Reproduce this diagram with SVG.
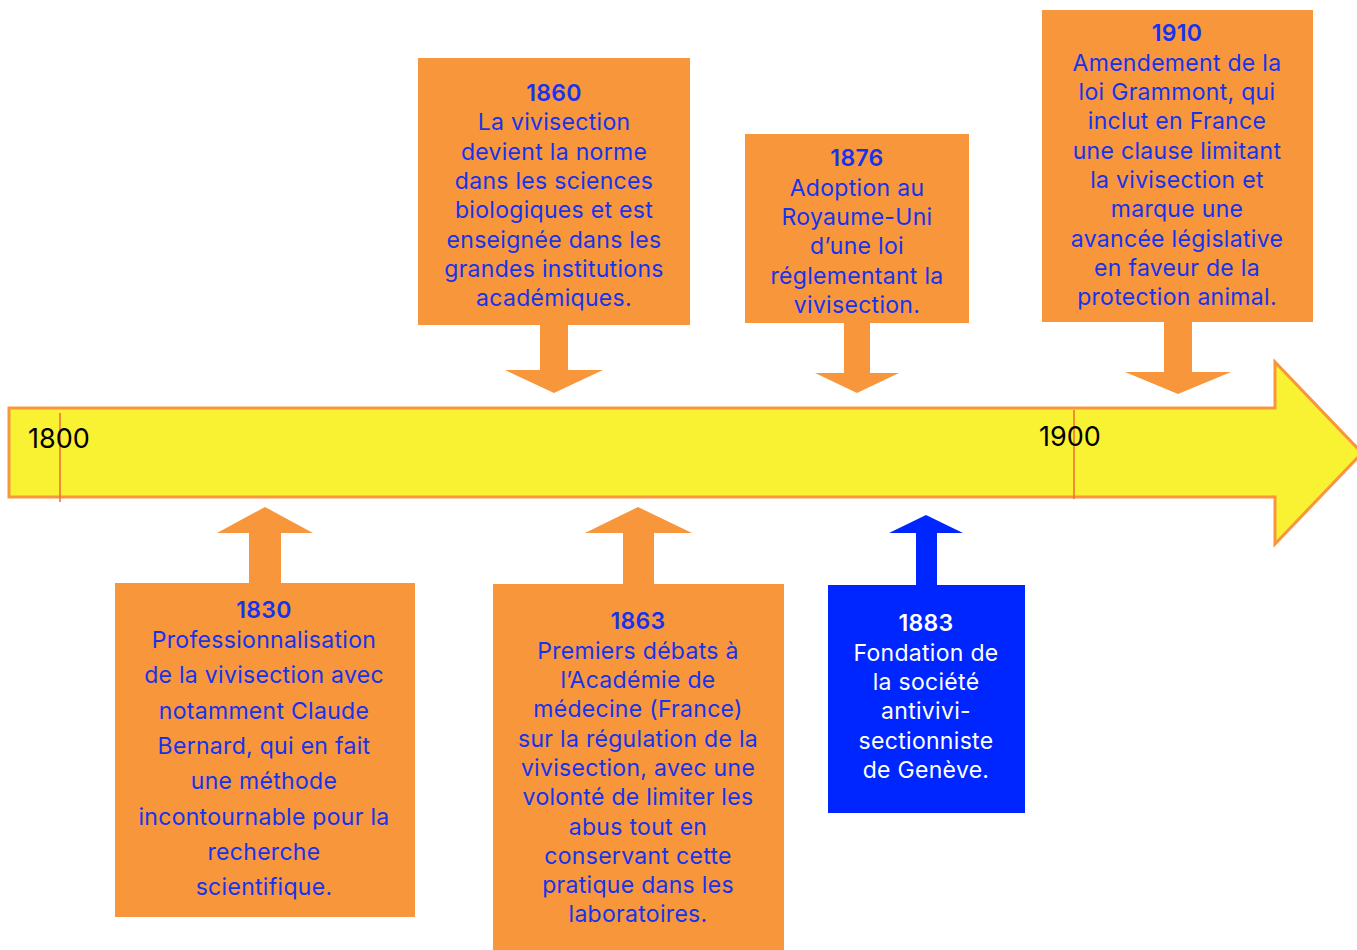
<svg xmlns="http://www.w3.org/2000/svg" width="1357" height="950" viewBox="0 0 1357 950">
<style>
.box{fill:#F8963C}
.blue{fill:#0026FF}
.t{font-family:Inter,"Liberation Sans",sans-serif;font-size:23px;letter-spacing:0.3px;fill:#1533EE;text-anchor:middle}
.w{fill:#FFFFFF}
.y{font-weight:600}
.yr{font-family:Inter,"Liberation Sans",sans-serif;font-size:27px;fill:#000}
.tick{stroke:#F26A3A;stroke-width:1.5}
</style>
<rect width="1357" height="950" fill="#FFFFFF"/>
<g id="timeline">
<path d="M9,408 H1275 V362 L1362,453 L1275,544 V497 H9 Z" fill="#F8F232" stroke="#F8963C" stroke-width="3"/>
<line class="tick" x1="60" y1="413" x2="60" y2="502"/>
<line class="tick" x1="1074" y1="410" x2="1074" y2="499"/>
<text class="yr" x="28" y="448">1800</text>
<text class="yr" x="1039" y="446">1900</text>
</g>
<g id="connectors">
<path class="box" d="M540,325 H568 V370 H603 L554,393 L505,370 H540 Z"/>
<path class="box" d="M844,323 H870 V373 H899 L857,393 L815,373 H844 Z"/>
<path class="box" d="M1164,322 H1192 V372 H1231 L1178,394 L1125,372 H1164 Z"/>
<path class="box" d="M249,583 H281 V533 H313 L265,507 L217,533 H249 Z"/>
<path class="box" d="M623,584 H654 V533 H692 L638,507 L585,533 H623 Z"/>
<path class="blue" d="M916,585 H937 V533 H963 L926,515 L889,533 H916 Z"/>
</g>
<g id="n1860">
<rect class="box" x="418" y="58" width="272" height="267"/>
<text class="t"><tspan class="y" x="554" y="101">1860</tspan><tspan x="554" y="130">La vivisection</tspan><tspan x="554" y="160">devient la norme</tspan><tspan x="554" y="189">dans les sciences</tspan><tspan x="554" y="218">biologiques et est</tspan><tspan x="554" y="248">enseignée dans les</tspan><tspan x="554" y="277">grandes institutions</tspan><tspan x="554" y="306">académiques.</tspan></text>
</g>
<g id="n1876">
<rect class="box" x="745" y="134" width="224" height="189"/>
<text class="t"><tspan class="y" x="857" y="166">1876</tspan><tspan x="857" y="196">Adoption au</tspan><tspan x="857" y="225">Royaume-Uni</tspan><tspan x="857" y="254">d’une loi</tspan><tspan x="857" y="284">réglementant la</tspan><tspan x="857" y="313">vivisection.</tspan></text>
</g>
<g id="n1910">
<rect class="box" x="1042" y="10" width="271" height="312"/>
<text class="t"><tspan class="y" x="1177" y="41">1910</tspan><tspan x="1177" y="71">Amendement de la</tspan><tspan x="1177" y="100">loi Grammont, qui</tspan><tspan x="1177" y="129">inclut en France</tspan><tspan x="1177" y="159">une clause limitant</tspan><tspan x="1177" y="188">la vivisection et</tspan><tspan x="1177" y="217">marque une</tspan><tspan x="1177" y="247">avancée législative</tspan><tspan x="1177" y="276">en faveur de la</tspan><tspan x="1177" y="305">protection animal.</tspan></text>
</g>
<g id="n1830">
<rect class="box" x="115" y="583" width="300" height="334"/>
<text class="t"><tspan class="y" x="264" y="618">1830</tspan><tspan x="264" y="648">Professionnalisation</tspan><tspan x="264" y="683">de la vivisection avec</tspan><tspan x="264" y="719">notamment Claude</tspan><tspan x="264" y="754">Bernard, qui en fait</tspan><tspan x="264" y="789">une méthode</tspan><tspan x="264" y="825">incontournable pour la</tspan><tspan x="264" y="860">recherche</tspan><tspan x="264" y="895">scientifique.</tspan></text>
</g>
<g id="n1863">
<rect class="box" x="493" y="584" width="291" height="366"/>
<text class="t"><tspan class="y" x="638" y="629">1863</tspan><tspan x="638" y="659">Premiers débats à</tspan><tspan x="638" y="688">l’Académie de</tspan><tspan x="638" y="717">médecine (France)</tspan><tspan x="638" y="747">sur la régulation de la</tspan><tspan x="638" y="776">vivisection, avec une</tspan><tspan x="638" y="805">volonté de limiter les</tspan><tspan x="638" y="835">abus tout en</tspan><tspan x="638" y="864">conservant cette</tspan><tspan x="638" y="893">pratique dans les</tspan><tspan x="638" y="922">laboratoires.</tspan></text>
</g>
<g id="n1883">
<rect class="blue" x="828" y="585" width="197" height="228"/>
<text class="t w"><tspan class="y" x="926" y="631">1883</tspan><tspan x="926" y="661">Fondation de</tspan><tspan x="926" y="690">la société</tspan><tspan x="926" y="719">antivivi-</tspan><tspan x="926" y="749">sectionniste</tspan><tspan x="926" y="778">de Genève.</tspan></text>
</g>
</svg>
